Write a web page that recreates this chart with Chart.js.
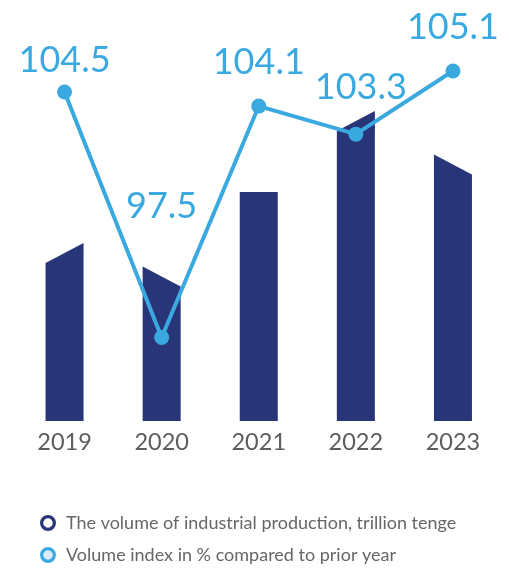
<!DOCTYPE html>
<html lang="en">
<head>
    <meta charset="UTF-8">
    <title>Industrial production</title>
    <style>
        * {
            margin: 0;
            padding: 0;
            box-sizing: border-box;
        }

        body {
            background: #fff;
            overflow: hidden;
            font-family: Lato, sans-serif;
        }

        .chart-container {
            position: relative;
            width: 509px;
            height: 574px;
        }
    </style>
</head>
<body>
    <div class="chart-container">
        <canvas id="chart"></canvas>
    </div>

    <script src="https://cdn.jsdelivr.net/npm/chart.js@4"></script>
    <script>
// Data
const years = ['2019', '2020', '2021', '2022', '2023'];
const productionVolume = [28.6, 24.6, 39.0, 51.1, 43.7];   // trillion tenge
const volumeIndex = [104.5, 97.5, 104.1, 103.3, 105.1];     // % to prior year

const seriesNames = [
    'The volume of industrial production, trillion tenge',
    'Volume index in % compared to prior year'
];

// Styling
const navy = '#283578';
const sky = '#3aa9e0';
const barTilt = [1, -1, 0, 1, -1];   // direction of the slanted bar tops
const tiltSize = 20;
const labelShiftX = [0, 0, 0, 5, 0];
const labelShiftY = [-32, -131, -44, -47, -44];

// bars with slanted tops
const slantedBars = {
    id: 'slantedBars',
    beforeDatasetDraw(chart, args) {
        const meta = args.meta;
        if (meta.type !== 'bar') return;
        const ctx = chart.ctx;
        ctx.save();
        ctx.fillStyle = navy;
        meta.data.forEach((bar, i) => {
            const half = bar.width / 2;
            const d = barTilt[i] * tiltSize / 2;
            ctx.beginPath();
            ctx.moveTo(bar.x - half, bar.base);
            ctx.lineTo(bar.x - half, bar.y + d);
            ctx.lineTo(bar.x + half, bar.y - d);
            ctx.lineTo(bar.x + half, bar.base);
            ctx.closePath();
            ctx.fill();
        });
        ctx.restore();
        return false;
    }
};

// value labels over the line points
const pointLabels = {
    id: 'pointLabels',
    afterDatasetsDraw(chart) {
        const ctx = chart.ctx;
        const meta = chart.getDatasetMeta(1);
        ctx.save();
        ctx.font = '36px Lato';
        ctx.fillStyle = sky;
        ctx.textAlign = 'center';
        ctx.textBaseline = 'middle';
        meta.data.forEach((pt, i) => {
            ctx.fillText(volumeIndex[i].toFixed(1), pt.x + labelShiftX[i], pt.y + labelShiftY[i]);
        });
        ctx.restore();
    }
};

// push the legend rows a little to the right
const legendIndent = {
    id: 'legendIndent',
    afterLayout(chart) {
        chart.legend.left += 9;
    }
};

const ctx = document.getElementById('chart').getContext('2d');
new Chart(ctx, {
    data: {
        labels: years,
        datasets: [{
            type: 'bar',
            label: seriesNames[0],
            data: productionVolume,
            backgroundColor: navy,
            borderColor: navy,
            barThickness: 38,
            yAxisID: 'y',
            order: 1
        }, {
            type: 'line',
            label: seriesNames[1],
            data: volumeIndex,
            borderColor: sky,
            backgroundColor: sky,
            borderWidth: 4,
            pointRadius: 7.5,
            pointBackgroundColor: sky,
            pointBorderWidth: 0,
            tension: 0,
            yAxisID: 'y1',
            order: 0
        }]
    },
    options: {
        responsive: true,
        maintainAspectRatio: false,
        animation: false,
        layout: {
            padding: { left: 16, right: 0, top: 10, bottom: 0 }
        },
        scales: {
            x: {
                grid: { display: false, drawTicks: false },
                border: { display: false },
                ticks: {
                    color: '#5c5c5c',
                    padding: 7,
                    font: { family: 'Lato', size: 23.5 }
                },
                afterFit(scale) { scale.height = 79; }
            },
            y: {
                display: false,
                min: 0,
                max: 70
            },
            y1: {
                display: false,
                min: 95.12,
                max: 106.84
            }
        },
        plugins: {
            tooltip: { enabled: false },
            legend: {
                position: 'bottom',
                align: 'start',
                labels: {
                    usePointStyle: true,
                    pointStyle: 'circle',
                    boxWidth: 18,
                    boxHeight: 9,
                    padding: 14,
                    color: '#666',
                    font: { family: 'Lato', size: 18 },
                    generateLabels(chart) {
                        const rings = [navy, sky];
                        const fills = ['#fff', '#dcecf7'];
                        return seriesNames.map((name, i) => ({
                            text: name,
                            datasetIndex: i,
                            fillStyle: fills[i],
                            strokeStyle: rings[i],
                            lineWidth: 3.2,
                            pointStyle: 'circle',
                            fontColor: '#666',
                            hidden: false
                        }));
                    }
                }
            }
        }
    },
    plugins: [slantedBars, pointLabels, legendIndent]
});
    </script>
</body>
</html>
